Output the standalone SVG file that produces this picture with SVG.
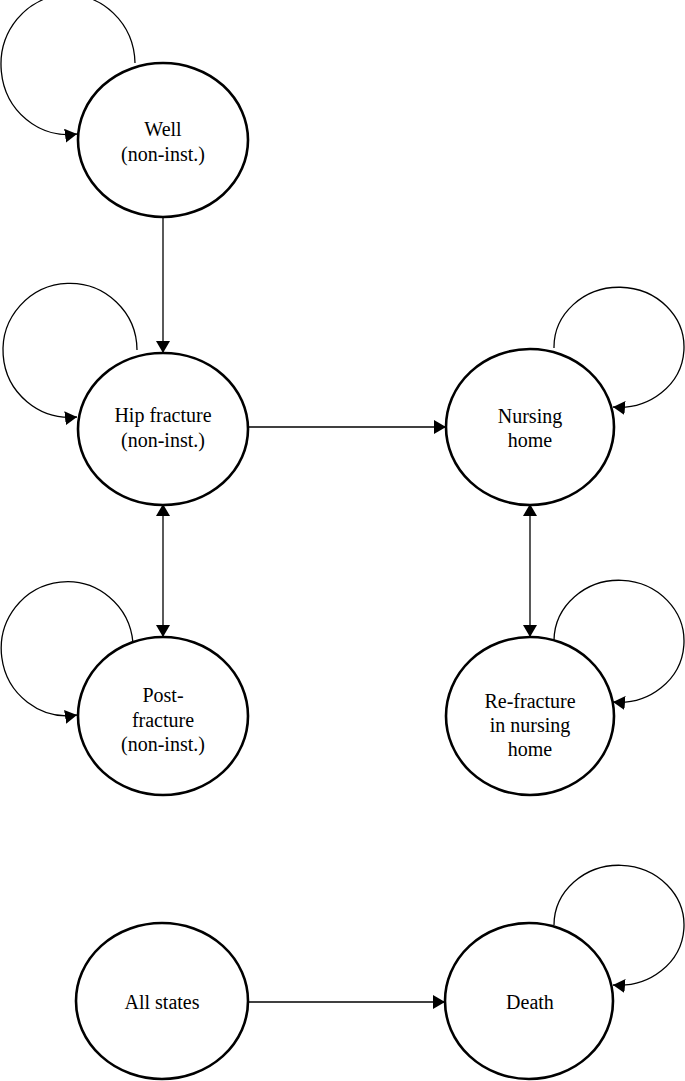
<svg xmlns="http://www.w3.org/2000/svg" width="685" height="1081" viewBox="0 0 685 1081">
<style>
.node{fill:#fff;stroke:#000;stroke-width:2.6}
.lbl{font-family:"Liberation Serif","Times New Roman",serif;font-size:20px;fill:#000;text-anchor:middle}
.edge{fill:none;stroke:#000;stroke-width:1.3}
</style>
<defs>
<marker id="arr" markerWidth="12" markerHeight="14" refX="12" refY="7" orient="auto-start-reverse" markerUnits="userSpaceOnUse">
<path d="M0,0 L12,7 L0,14 z" fill="#000"/>
</marker>
</defs>
<rect width="685" height="1081" fill="#fff"/>
<g id="connectors">
<path class="edge" d="M163,218 L163,353" marker-end="url(#arr)"/>
<path class="edge" d="M248,427 L446,427" marker-end="url(#arr)"/>
<path class="edge" d="M163,504 L163,637" marker-start="url(#arr)" marker-end="url(#arr)"/>
<path class="edge" d="M530,504 L530,637" marker-start="url(#arr)" marker-end="url(#arr)"/>
<path class="edge" d="M248,1002 L445,1002" marker-end="url(#arr)"/>
<path class="edge" d="M135,63 A67,70 0 1 0 77,134" marker-end="url(#arr)"/>
<path class="edge" d="M137,350 A67,67 0 1 0 77,417" marker-end="url(#arr)"/>
<path class="edge" d="M133,643 A66,67 0 1 0 77,715" marker-end="url(#arr)"/>
<path class="edge" d="M554,348 A65,60 0 1 1 613,407" marker-end="url(#arr)"/>
<path class="edge" d="M554,640 A65,61 0 1 1 613,702" marker-end="url(#arr)"/>
<path class="edge" d="M554,925 A65,60 0 1 1 613,985" marker-end="url(#arr)"/>
</g>
<g id="well">
<ellipse class="node" cx="163" cy="140" rx="85" ry="77"/>
<text class="lbl" x="163" y="136">Well</text>
<text class="lbl" x="163" y="161">(non-inst.)</text>
</g>
<g id="hip">
<ellipse class="node" cx="163" cy="429" rx="85" ry="76"/>
<text class="lbl" x="163" y="422">Hip fracture</text>
<text class="lbl" x="163" y="447">(non-inst.)</text>
</g>
<g id="nursing">
<ellipse class="node" cx="530" cy="427" rx="84" ry="78"/>
<text class="lbl" x="530" y="423">Nursing</text>
<text class="lbl" x="530" y="447">home</text>
</g>
<g id="post">
<ellipse class="node" cx="163" cy="716" rx="85" ry="79"/>
<text class="lbl" x="163" y="702">Post-</text>
<text class="lbl" x="163" y="727">fracture</text>
<text class="lbl" x="163" y="751">(non-inst.)</text>
</g>
<g id="refracture">
<ellipse class="node" cx="530" cy="716" rx="84" ry="79"/>
<text class="lbl" x="530" y="708">Re-fracture</text>
<text class="lbl" x="530" y="732">in nursing</text>
<text class="lbl" x="530" y="756">home</text>
</g>
<g id="allstates">
<ellipse class="node" cx="162" cy="1001" rx="86" ry="78"/>
<text class="lbl" x="162" y="1009">All states</text>
</g>
<g id="death">
<ellipse class="node" cx="529" cy="1001" rx="84" ry="78"/>
<text class="lbl" x="530" y="1009">Death</text>
</g>
</svg>
